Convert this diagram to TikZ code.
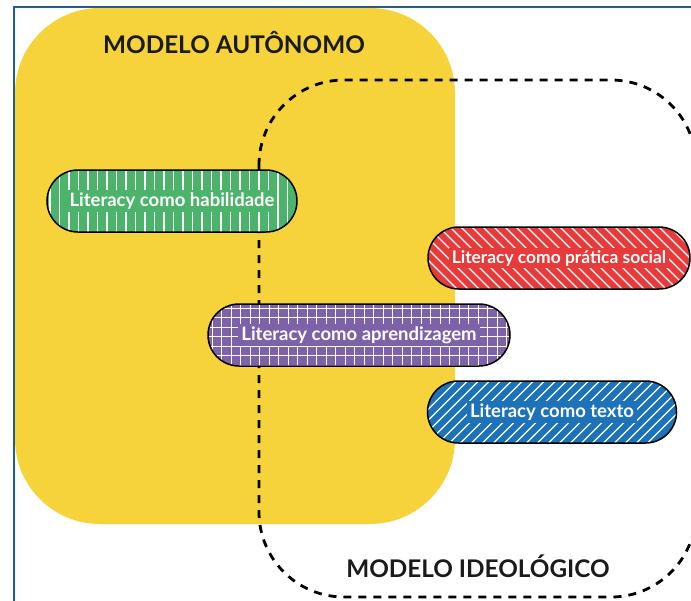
\documentclass[tikz,border=0pt]{standalone}
\usepackage{fontspec}
\setmainfont{Lato}
\definecolor{yel}{HTML}{F7D33B}
\definecolor{grn}{HTML}{4BB36A}
\definecolor{red1}{HTML}{E63A3B}
\definecolor{pur}{HTML}{7E62A9}
\definecolor{blu}{HTML}{1D72B9}
\definecolor{framec}{HTML}{1F5F8B}
\definecolor{headc}{HTML}{1A1A1A}
\begin{document}
\begin{tikzpicture}[x=1pt,y=-1pt,
  pill/.style={draw=black, line width=1.5pt, rounded corners=31pt, minimum height=62pt, inner sep=0pt},
  pilltext/.style={text=white, font=\bfseries\fontsize{18.5}{20}\selectfont, inner xsep=3pt, inner ysep=2.5pt},
  heading/.style={font=\bfseries\fontsize{24.3}{28}\selectfont, text=headc},
  stripe/.style={draw=white, line width=1.2pt},
  vlines/.style={path picture={
    \foreach \i in {0,...,33} \draw[stripe] ([xshift=\i*9.5pt+3pt]path picture bounding box.north west) -- ([xshift=\i*9.5pt+3pt]path picture bounding box.south west);}},
  backdiag/.style={path picture={
    \foreach \i in {-8,...,28} \draw[stripe] ([xshift=\i*11pt]path picture bounding box.north west) -- ++(70pt,-70pt);}},
  fwddiag/.style={path picture={
    \foreach \i in {-8,...,28} \draw[stripe] ([xshift=\i*11pt]path picture bounding box.south west) -- ++(70pt,70pt);}},
  grid/.style={path picture={
    \foreach \i in {0,...,34} \draw[stripe, line width=0.9pt] ([xshift=\i*9.5pt+4pt]path picture bounding box.north west) -- ([xshift=\i*9.5pt+4pt]path picture bounding box.south west);
    \foreach \j in {0,...,7} \draw[stripe, line width=0.9pt] ([yshift=-\j*9.5pt-4pt]path picture bounding box.north west) -- ([yshift=-\j*9.5pt-4pt]path picture bounding box.north east);}}
]
\useasboundingbox (0,0) rectangle (691,600);
\clip (0,0) rectangle (691,600);
% frame
\draw[framec, line width=2pt] (14,601) -- (14,7) -- (692,7);
% yellow autonomous model
\fill[yel, rounded corners=85pt] (15,8) rectangle (455,524);
% dashed ideological model
\draw[black, line width=2.8pt, dash pattern=on 8pt off 7pt, rounded corners=85pt] (259,80) rectangle (696,597);
% headings
\node[heading] (auto) at (234,43) {MODELO AUTÔNOMO};
\node[heading] (ideo) at (478,566) {MODELO IDEOLÓGICO};
% pills
\node[pill, fill=grn, vlines, minimum width=250pt] (hab) at (172,201) {};
\node[pilltext, fill=grn] (habt) at (hab) {Literacy como habilidade};
\node[pill, fill=red1, backdiag, minimum width=262pt] (soc) at (559,258) {};
\node[pilltext, fill=red1, font=\bfseries\fontsize{17.4}{20}\selectfont] (soct) at (soc) {Literacy como prática social};
\node[pill, fill=pur, grid, minimum width=302pt] (apr) at (359,335) {};
\node[pilltext, fill=pur] (aprt) at (apr) {Literacy como aprendizagem};
\node[pill, fill=blu, fwddiag, minimum width=249pt] (tex) at (552,412) {};
\node[pilltext, fill=blu] (text) at (tex) {Literacy como texto};
\end{tikzpicture}
\end{document}
